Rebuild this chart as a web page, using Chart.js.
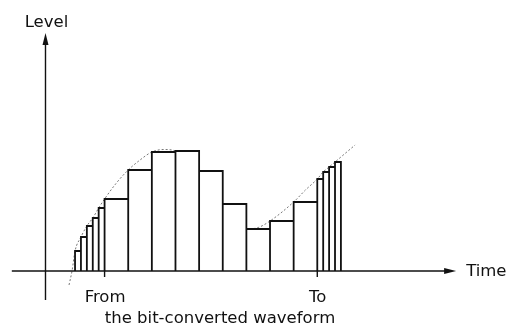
<!DOCTYPE html>
<html>
<head>
<meta charset="utf-8">
<script src="https://cdn.jsdelivr.net/npm/chart.js@4/dist/chart.umd.min.js"></script>
<style>
  html, body { margin: 0; padding: 0; background: #fff; }
  #wrap { width: 506px; height: 335px; position: relative; }
</style>
</head>
<body>
<div id="wrap"><canvas id="c"></canvas></div>
<script>
// ---- data (time in sample units, level in arbitrary units) ----
const TIME_EDGES = [5, 6, 7, 8, 9, 10, 14, 18, 22, 26, 30, 34, 38, 42, 46, 47, 48, 49, 50];
const LEVELS     = [2.0, 3.4, 4.5, 5.3, 6.3, 7.2, 10.1, 11.9, 12.0, 10.0, 6.7, 4.2, 5.0, 6.9, 9.2, 9.9, 10.4, 10.9];
const CURVE_T    = [3.98, 4.49, 5, 6, 7, 8, 9, 10, 12, 14, 16, 18, 20, 22, 26, 30, 34, 36, 38, 42, 44, 46, 47, 48, 49, 50, 52.4];
const CURVE_L    = [-1.4, 0, 2.0, 3.4, 4.5, 5.3, 6.3, 7.2, 8.8, 10.1, 11.1, 11.9, 12.15, 12.0, 10.0, 6.7, 4.2, 4.35, 5.0, 6.9, 8.1, 9.2, 9.9, 10.4, 10.9, 11.4, 12.6];
const TICK_T      = [10, 46];
const TICK_LABELS = ['From', 'To'];
const X_TITLE = 'Time';
const Y_TITLE = 'Level';
const CAPTION = 'the bit-converted waveform';

// build the step outline (each sample held as a rectangle)
const stepPoints = [];
for (let i = 0; i < LEVELS.length; i++) {
  stepPoints.push({x: TIME_EDGES[i], y: 0});
  stepPoints.push({x: TIME_EDGES[i], y: LEVELS[i]});
  stepPoints.push({x: TIME_EDGES[i + 1], y: LEVELS[i]});
  stepPoints.push({x: TIME_EDGES[i + 1], y: 0});
}
const curvePoints = CURVE_T.map((t, i) => ({x: t, y: CURVE_L[i]}));

const FONT = '16.5px "DejaVu Sans", sans-serif';
const INK = '#111111';

const axesPlugin = {
  id: 'axesPlugin',
  afterDatasetsDraw(chart) {
    const ctx = chart.ctx;
    const xs = chart.scales.x, ys = chart.scales.y;
    const y0 = ys.getPixelForValue(0);
    const x0 = xs.getPixelForValue(0);
    ctx.save();
    ctx.strokeStyle = INK;
    ctx.fillStyle = INK;
    ctx.lineWidth = 1.4;
    // x axis
    const xStart = xs.getPixelForValue(-5.7), xEnd = xs.getPixelForValue(69.5);
    ctx.beginPath(); ctx.moveTo(xStart, y0); ctx.lineTo(xEnd - 8, y0); ctx.stroke();
    ctx.beginPath(); ctx.moveTo(xEnd, y0); ctx.lineTo(xEnd - 12, y0 - 3); ctx.lineTo(xEnd - 12, y0 + 3); ctx.closePath(); ctx.fill();
    // y axis
    const yTop = ys.getPixelForValue(23.8), yBot = ys.getPixelForValue(-2.9);
    ctx.beginPath(); ctx.moveTo(x0, yBot); ctx.lineTo(x0, yTop + 8); ctx.stroke();
    ctx.beginPath(); ctx.moveTo(x0, yTop); ctx.lineTo(x0 - 3, yTop + 12); ctx.lineTo(x0 + 3, yTop + 12); ctx.closePath(); ctx.fill();
    // ticks + labels
    ctx.font = FONT;
    ctx.textAlign = 'center';
    ctx.textBaseline = 'alphabetic';
    TICK_T.forEach((t, i) => {
      const px = xs.getPixelForValue(t);
      ctx.beginPath(); ctx.moveTo(px, y0); ctx.lineTo(px, y0 + 6); ctx.stroke();
      ctx.fillText(TICK_LABELS[i], px + 0.5, y0 + 31);
    });
    // titles
    ctx.fillText(Y_TITLE, x0 + 1, yTop - 6);
    ctx.textAlign = 'left';
    ctx.textBaseline = 'middle';
    ctx.fillText(X_TITLE, xEnd + 10, y0 + 0.5);
    ctx.textAlign = 'center';
    ctx.textBaseline = 'alphabetic';
    ctx.fillText(CAPTION, 220, y0 + 52);
    ctx.restore();
  }
};

new Chart(document.getElementById('c'), {
  type: 'line',
  data: {
    datasets: [
      {
        label: 'bit-converted',
        data: stepPoints,
        order: 0,
        borderColor: INK,
        borderWidth: 1.8,
        backgroundColor: '#ffffff',
        fill: 'origin',
        pointRadius: 0,
        tension: 0,
        borderJoinStyle: 'miter'
      },
      {
        label: 'waveform',
        data: curvePoints,
        order: 1,
        borderColor: '#777777',
        borderWidth: 1,
        borderDash: [2, 2],
        fill: false,
        pointRadius: 0,
        cubicInterpolationMode: 'monotone'
      }
    ]
  },
  options: {
    responsive: true,
    maintainAspectRatio: false,
    animation: false,
    layout: { padding: 0 },
    plugins: { legend: { display: false }, tooltip: { enabled: false }, title: { display: false } },
    scales: {
      x: { type: 'linear', display: false, min: -7.70, max: 77.94 },
      y: { type: 'linear', display: false, min: -6.4, max: 27.1 }
    }
  },
  plugins: [axesPlugin]
});
</script>
</body>
</html>
